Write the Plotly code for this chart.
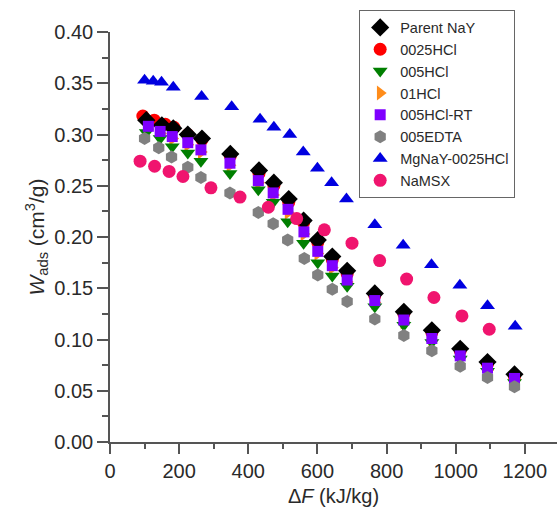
import plotly.graph_objects as go

# Series order as listed in the legend
series_names = ["Parent NaY", "0025HCl", "005HCl", "01HCl", "005HCl-RT",
                "005EDTA", "MgNaY-0025HCl", "NaMSX"]

# Adsorption free energy ΔF (kJ/kg) and adsorbed volume W_ads (cm3/g)
parent_x = [105, 150, 183, 225, 266, 348, 431, 474, 517, 560, 601, 643, 686, 766, 850, 931, 1013, 1092, 1170]
parent_w = [0.314, 0.309, 0.306, 0.300, 0.296, 0.281, 0.265, 0.253, 0.237, 0.216, 0.197, 0.181, 0.167, 0.145, 0.127, 0.109, 0.091, 0.078, 0.066]

hcl0025_x = [95, 128, 160, 185, 225, 266, 348, 431, 474, 517, 560, 601, 643, 686, 766, 850, 931, 1013, 1092, 1170]
hcl0025_w = [0.318, 0.314, 0.310, 0.307, 0.300, 0.295, 0.279, 0.262, 0.250, 0.234, 0.214, 0.195, 0.178, 0.164, 0.143, 0.125, 0.107, 0.089, 0.076, 0.064]

hcl005_x = [105, 145, 180, 225, 263, 347, 429, 472, 514, 560, 601, 643, 686, 766, 850, 931, 1013, 1092, 1170]
hcl005_w = [0.302, 0.296, 0.288, 0.282, 0.274, 0.262, 0.246, 0.234, 0.215, 0.194, 0.175, 0.162, 0.152, 0.132, 0.114, 0.097, 0.081, 0.069, 0.058]

hcl01_x = [108, 146, 181, 225, 264, 347, 430, 473, 515, 561, 601, 643, 686, 766, 850, 931, 1013, 1092, 1170]
hcl01_w = [0.306, 0.301, 0.296, 0.290, 0.283, 0.270, 0.253, 0.241, 0.224, 0.203, 0.184, 0.170, 0.156, 0.136, 0.117, 0.099, 0.083, 0.070, 0.060]

hclrt_x = [111, 145, 180, 225, 263, 347, 429, 472, 515, 561, 601, 643, 686, 766, 850, 931, 1013, 1092, 1170]
hclrt_w = [0.308, 0.303, 0.298, 0.292, 0.285, 0.272, 0.255, 0.243, 0.227, 0.205, 0.186, 0.172, 0.158, 0.138, 0.119, 0.101, 0.084, 0.072, 0.062]

edta_x = [100, 141, 178, 225, 263, 347, 429, 472, 514, 562, 601, 643, 686, 766, 850, 931, 1013, 1092, 1170]
edta_w = [0.296, 0.287, 0.278, 0.268, 0.258, 0.243, 0.224, 0.213, 0.197, 0.179, 0.163, 0.149, 0.137, 0.120, 0.104, 0.089, 0.074, 0.063, 0.054]

mgnay_x = [100, 125, 149, 183, 265, 352, 434, 474, 520, 559, 600, 641, 684, 766, 848, 930, 1012, 1092, 1172]
mgnay_w = [0.353, 0.352, 0.351, 0.346, 0.337, 0.327, 0.315, 0.307, 0.300, 0.283, 0.267, 0.253, 0.237, 0.212, 0.192, 0.173, 0.153, 0.133, 0.113]

namsx_x = [87, 129, 171, 211, 292, 376, 458, 540, 620, 700, 780, 858, 937, 1018, 1097]
namsx_w = [0.274, 0.269, 0.264, 0.259, 0.248, 0.239, 0.229, 0.218, 0.207, 0.194, 0.177, 0.159, 0.141, 0.123, 0.110]

xs = [parent_x, hcl0025_x, hcl005_x, hcl01_x, hclrt_x, edta_x, mgnay_x, namsx_x]
ws = [parent_w, hcl0025_w, hcl005_w, hcl01_w, hclrt_w, edta_w, mgnay_w, namsx_w]

symbols = ["diamond", "circle", "triangle-down", "triangle-right", "square",
           "hexagon", "triangle-up", "circle"]
colors = ["#000000", "#FF0000", "#007F00", "#FF8C1A", "#7F00FF",
          "#808080", "#0000E0", "#F0146E"]
sizes = [14, 13, 13, 13, 11, 13, 13, 13]

# Stacking order of the marker layers (back to front); legend keeps series order
draw_order = [1, 3, 2, 0, 4, 5, 6, 7]

FONT = "Liberation Sans, Arial, sans-serif"

fig = go.Figure()
for i in draw_order:
    fig.add_trace(go.Scatter(
        x=xs[i], y=ws[i], mode="markers", name=series_names[i],
        legendrank=i + 1,
        marker=dict(symbol=symbols[i], color=colors[i], size=sizes[i], line=dict(width=0)),
    ))

axis_common = dict(
    showline=True, linecolor="#555555", linewidth=1.5,
    ticks="outside", tickcolor="#555555", tickwidth=1.5,
    showgrid=False, zeroline=False,
    tickfont=dict(family=FONT, size=20, color="#2a2a2a"),
)

fig.update_xaxes(
    range=[0, 1293], tickmode="linear", tick0=0, dtick=200, ticklen=10,
    minor=dict(ticks="outside", dtick=100, ticklen=5, tickcolor="#555555", tickwidth=1.5),
    title=dict(text="Δ<i>F</i> (kJ/kg)", font=dict(family=FONT, size=20, color="#2a2a2a"),
               standoff=8),
    **axis_common,
)
fig.update_yaxes(
    range=[0, 0.4], tickmode="linear", tick0=0, dtick=0.05, tickformat=".2f", ticklen=11,
    minor=dict(ticks="outside", dtick=0.025, ticklen=6, tickcolor="#555555", tickwidth=1.5),
    title=dict(text="<i>W</i><sub>ads</sub> (cm<sup>3</sup>/g)",
               font=dict(family=FONT, size=21, color="#2a2a2a"), standoff=4),
    **axis_common,
)

fig.update_layout(
    width=557, height=512,
    margin=dict(l=110, r=0, t=32, b=70),
    paper_bgcolor="white", plot_bgcolor="white",
    legend=dict(
        x=0.557, y=1.053, xanchor="left", yanchor="top",
        bgcolor="white", bordercolor="#666666", borderwidth=1.2,
        font=dict(family=FONT, size=14.5, color="#2a2a2a"),
        tracegroupgap=0, itemwidth=30,
    ),
)

fig.write_html("out.html")
